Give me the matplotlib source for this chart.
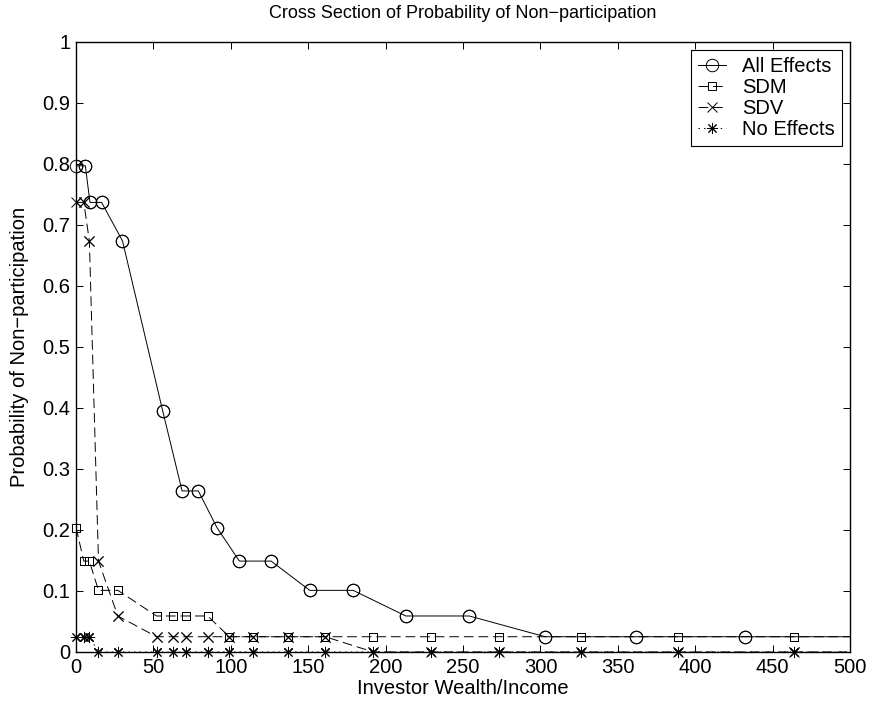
import matplotlib
matplotlib.use('Agg')
import matplotlib.pyplot as plt

plt.rcParams['font.family'] = ['Liberation Sans', 'DejaVu Sans']
plt.rcParams['lines.scale_dashes'] = False

# values (last point runs past x=500 and is clipped)
all_x = [0, 6, 9, 16.5, 30, 56, 68.5, 79, 91, 105.5, 126, 151, 179, 213, 254, 303, 362, 432, 515]
all_y = [0.797, 0.797, 0.737, 0.737, 0.674, 0.395, 0.264, 0.264, 0.204, 0.149, 0.149,
         0.101, 0.101, 0.059, 0.059, 0.025, 0.025, 0.025, 0.025]

grid_x = [0, 5, 8.6, 14.5, 27, 52, 62.5, 71, 85, 99, 114, 137, 161, 192, 229, 273, 326, 389, 464, 553]
sdm_y = [0.204, 0.149, 0.149, 0.101, 0.101, 0.059, 0.059, 0.059, 0.059, 0.025, 0.025,
         0.025, 0.025, 0.025, 0.025, 0.025, 0.025, 0.025, 0.025, 0.025]
sdv_y = [0.737, 0.737, 0.674, 0.149, 0.059, 0.025, 0.025, 0.025, 0.025, 0.025, 0.025,
         0.025, 0.025, 0, 0, 0, 0, 0, 0, 0]
noeff_y = [0.025, 0.025, 0.025, 0, 0, 0, 0, 0, 0, 0, 0,
           0, 0, 0, 0, 0, 0, 0, 0, 0]

x_ticks = [0, 50, 100, 150, 200, 250, 300, 350, 400, 450, 500]
y_ticks = [0, 0.1, 0.2, 0.3, 0.4, 0.5, 0.6, 0.7, 0.8, 0.9, 1]
y_ticklabels = ['0', '0.1', '0.2', '0.3', '0.4', '0.5', '0.6', '0.7', '0.8', '0.9', '1']

fig = plt.figure(figsize=(8.7, 7.04), dpi=100)
ax = fig.add_axes([0.0874, 0.0739, 0.8897, 0.8665])

lw = 0.7
fs = 14.5
xmax = 500
series = [
    (all_x, all_y, dict(ls='-', marker='o', ms=9, mfc='none'), 'All Effects'),
    (grid_x, sdm_y, dict(dashes=(7, 3.5), marker='s', ms=6, mfc='none'), 'SDM'),
    (grid_x, sdv_y, dict(dashes=(7, 3.5), marker='x', ms=6.5), 'SDV'),
    (grid_x, noeff_y, dict(dashes=(1, 3), marker=(8, 2, 0), ms=8), 'No Effects'),
]
for xs, ys, style, name in series:
    ax.plot(xs, ys, color='k', lw=lw, mew=lw, label=name, **style)
    # markers are not clipped at the frame (as in the original)
    inside = [i for i, v in enumerate(xs) if v <= xmax]
    ax.plot(xs, ys, color='k', ls='none', mew=lw, markevery=inside, clip_on=False,
            marker=style['marker'], ms=style['ms'], mfc=style.get('mfc', 'k'))

ax.set_xlim(0, xmax)
ax.set_ylim(0, 1)
ax.set_xticks(x_ticks)
ax.set_yticks(y_ticks)
ax.set_yticklabels(y_ticklabels)
ax.tick_params(direction='in', length=5, width=0.7, top=True, right=True,
               labelsize=fs, pad=4)
for s in ax.spines.values():
    s.set_linewidth(1.0)

ax.set_xlabel('Investor Wealth/Income', fontsize=fs, labelpad=2)
ax.set_ylabel('Probability of Non\u2212participation', fontsize=fs)
ax.yaxis.set_label_coords(-0.061, 0.5)
ax.set_title('Cross Section of Probability of Non\u2212participation', fontsize=13, pad=17)

leg = ax.legend(loc='upper right', fontsize=fs, frameon=True, fancybox=False,
                edgecolor='k', framealpha=1, borderaxespad=0.4, handlelength=1.4,
                handletextpad=0.8, labelspacing=0.1, borderpad=0.35)
leg.get_frame().set_linewidth(0.8)

fig.savefig('out.png', dpi=100)
